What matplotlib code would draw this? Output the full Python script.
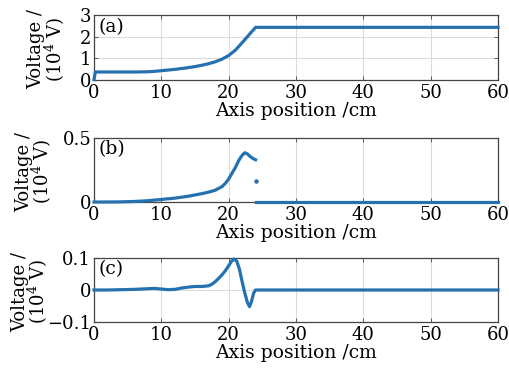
import numpy as np
import matplotlib.pyplot as plt

#data
#(a) total voltage
x_a = [0, 0.2, 1, 2, 4, 6, 8, 9, 10, 11, 12, 13, 14, 15, 16, 17, 18, 19, 20, 21, 22, 23, 24, 60]
v_a = [0.02, 0.37, 0.37, 0.37, 0.37, 0.37, 0.38, 0.40, 0.43, 0.46, 0.49, 0.53, 0.57, 0.62, 0.68, 0.75,
       0.84, 0.96, 1.13, 1.38, 1.72, 2.08, 2.43, 2.43]

#(b) first component, ends at 24 cm, a lone point, then zero
x_b = [0, 2, 4, 6, 8, 10, 12, 14, 15, 16, 17, 18, 19, 19.5, 20, 20.5, 21, 21.5, 22, 22.4, 22.8, 23.2, 23.6, 24.0]
v_b = [0, 0, 0.001, 0.004, 0.01, 0.02, 0.03, 0.045, 0.055, 0.065, 0.077, 0.092, 0.12, 0.145, 0.18, 0.225,
       0.27, 0.325, 0.365, 0.385, 0.375, 0.355, 0.34, 0.33]
x_b_dot = [24.05]
v_b_dot = [0.165]
x_b_tail = [24.1, 60]
v_b_tail = [0, 0]

#(c) second component
x_c = [0, 2, 4, 6, 8, 9, 10, 11, 12, 13, 14, 15, 16, 17, 17.5, 18, 18.5, 19, 19.5, 20, 20.4, 20.8,
       21.2, 21.6, 22, 22.4, 22.8, 23.1, 23.4, 23.7, 24, 60]
v_c = [0, 0, 0.001, 0.002, 0.004, 0.005, 0.003, 0.001, 0.002, 0.006, 0.009, 0.011, 0.011, 0.013, 0.018,
       0.026, 0.036, 0.047, 0.06, 0.076, 0.089, 0.097, 0.09, 0.065, 0.026, -0.01, -0.04, -0.052, -0.035,
       -0.01, 0, 0]

x_ticks = [0, 10, 20, 30, 40, 50, 60]
yticks_a = [0, 1, 2, 3]
yticks_b = [0, 0.5]
yticks_c = [-0.1, 0, 0.1]

plt.rcParams['font.family'] = ['DejaVu Serif']
plt.rcParams['mathtext.fontset'] = 'dejavuserif'

blue = '#2571b0'
lw = 2.3

fig = plt.figure(figsize=(5.09, 3.74), dpi=100)

L = 94 / 509
W = 404 / 509
ax_a = fig.add_axes([L, 1 - 80 / 374, W, 65 / 374])
ax_b = fig.add_axes([L, 1 - 202 / 374, W, 64 / 374])
ax_c = fig.add_axes([L, 1 - 322 / 374, W, 64 / 374])

ax_a.plot(x_a, v_a, color=blue, lw=lw, clip_on=False, zorder=3)
ax_b.plot(x_b, v_b, color=blue, lw=lw, clip_on=False, zorder=3)
ax_b.plot(x_b_dot, v_b_dot, 'o', color=blue, ms=2.2, zorder=3)
ax_b.plot(x_b_tail, v_b_tail, color=blue, lw=lw, clip_on=False, zorder=3)
ax_c.plot(x_c, v_c, color=blue, lw=lw, clip_on=False, zorder=3)

ax_a.set_ylim(0, 3)
ax_b.set_ylim(0, 0.5)
ax_c.set_ylim(-0.1, 0.1)
ax_a.set_yticks(yticks_a)
ax_a.set_yticklabels(['0', '1', '2', '3'])
ax_b.set_yticks(yticks_b)
ax_b.set_yticklabels(['0', '0.5'])
ax_c.set_yticks(yticks_c)
ax_c.set_yticklabels(['\u22120.1', '0', '0.1'])

#ylabel x positions differ per panel, like in the reference
label_x = [-0.068, -0.098, -0.108]

for ax, tag, lx in zip([ax_a, ax_b, ax_c], ['(a)', '(b)', '(c)'], label_x):
    ax.set_xlim(0, 60)
    ax.set_xticks(x_ticks)
    ax.grid(True, color='#dcdcdc', lw=0.8)
    ax.set_axisbelow(True)
    ax.tick_params(direction='in', length=3, width=0.6, color='#444444',
                   labelsize=13, top=True, right=True)
    ax.tick_params(axis='x', pad=3)
    ax.tick_params(axis='y', pad=2)
    for s in ax.spines.values():
        s.set_color('#444444')
        s.set_linewidth(0.9)
    ax.set_xlabel('Axis position /cm', fontsize=13.5, labelpad=0)
    ax.set_ylabel('Voltage /\n(10$^4$ V)', fontsize=13, linespacing=0.85)
    ax.yaxis.set_label_coords(lx, 0.47)
    ax.text(0.01, 0.96, tag, transform=ax.transAxes, fontsize=13.5, va='top', ha='left')

fig.savefig('out.png', dpi=100)
